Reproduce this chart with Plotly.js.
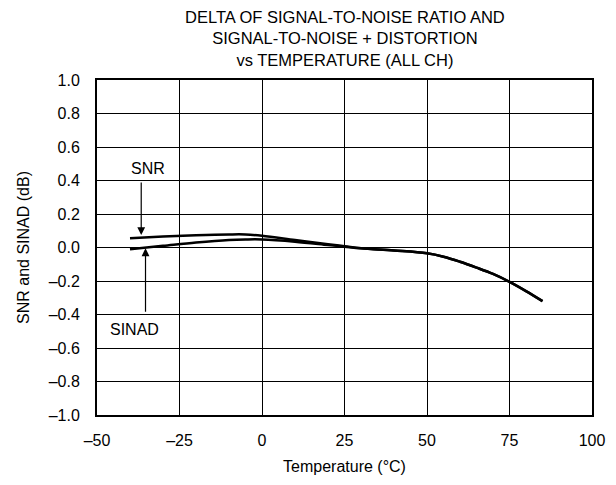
<!DOCTYPE html>
<html>
<head>
<meta charset="utf-8">
<script src="https://cdn.plot.ly/plotly-3.0.1.min.js"></script>
<style>html,body{margin:0;padding:0;background:#fff;}#chart{width:616px;height:485px;}</style>
</head>
<body>
<div id="chart"></div>
<script>
const temps = [-40, -30, -20, -10, -5, 0, 10, 20, 25, 30, 40, 50, 55, 60, 65, 70, 75, 80, 85];
const snr   = [0.055, 0.065, 0.073, 0.078, 0.078, 0.07, 0.045, 0.02, 0.008, -0.005, -0.018, -0.035, -0.055, -0.085, -0.12, -0.158, -0.205, -0.26, -0.32];
const sinad = [-0.01, 0.01, 0.03, 0.045, 0.048, 0.048, 0.035, 0.015, 0.005, -0.005, -0.018, -0.035, -0.055, -0.085, -0.12, -0.158, -0.205, -0.26, -0.32];
const xTicks = [-50, -25, 0, 25, 50, 75, 100];
const xTickText = ['\u201350', '\u201325', '0', '25', '50', '75', '100'];
const yTicks = [-1.0, -0.8, -0.6, -0.4, -0.2, 0.0, 0.2, 0.4, 0.6, 0.8, 1.0];
const yTickText = ['\u20131.0', '\u20130.8', '\u20130.6', '\u20130.4', '\u20130.2', '0.0', '0.2', '0.4', '0.6', '0.8', '1.0'];

const font = {family: 'Liberation Sans, Arial, sans-serif', size: 16, color: '#000'};

const traces = [
  {x: temps, y: snr, mode: 'lines', line: {color: '#000', width: 2.5, shape: 'spline'}, name: 'SNR', hoverinfo: 'none'},
  {x: temps, y: sinad, mode: 'lines', line: {color: '#000', width: 2.5, shape: 'spline'}, name: 'SINAD', hoverinfo: 'none'}
];

const layout = {
  width: 616, height: 485,
  margin: {l: 97, r: 24, t: 80, b: 70},
  paper_bgcolor: '#fff', plot_bgcolor: '#fff',
  showlegend: false,
  font: font,
  title: {
    text: 'DELTA OF SIGNAL-TO-NOISE RATIO AND<br>SIGNAL-TO-NOISE + DISTORTION<br>vs TEMPERATURE (ALL CH)',
    font: {family: font.family, size: 16.5, color: '#000'},
    x: 0.56, xanchor: 'center', y: 0.953, yanchor: 'top'
  },
  xaxis: {
    range: [-50, 100], tickvals: xTicks, ticktext: xTickText,
    showgrid: true, gridcolor: '#000', gridwidth: 1,
    showline: true, linecolor: '#000', linewidth: 2, mirror: true,
    zeroline: false, ticks: 'outside', ticklen: 10, tickcolor: 'rgba(0,0,0,0)',
    title: {text: 'Temperature (°C)', font: font, standoff: 13},
    tickfont: font
  },
  yaxis: {
    range: [-1.0, 1.0], tickvals: yTicks, ticktext: yTickText,
    showgrid: true, gridcolor: '#000', gridwidth: 1,
    showline: true, linecolor: '#000', linewidth: 2, mirror: true,
    zeroline: false, ticks: 'outside', ticklen: 12, tickcolor: 'rgba(0,0,0,0)',
    title: {text: 'SNR and SINAD (dB)', font: font, standoff: 15},
    tickfont: font
  },
  annotations: [
    {x: -34.5, y: 0.473, xref: 'x', yref: 'y', text: 'SNR', showarrow: false, font: font},
    {x: -36.6, y: 0.075, xref: 'x', yref: 'y', text: '', showarrow: true, arrowhead: 2, arrowsize: 1.3, arrowwidth: 1.2, arrowcolor: '#000', ax: 0, ay: -54},
    {x: -38.5, y: -0.487, xref: 'x', yref: 'y', text: 'SINAD', showarrow: false, font: font},
    {x: -35.3, y: -0.005, xref: 'x', yref: 'y', text: '', showarrow: true, arrowhead: 2, arrowsize: 1.3, arrowwidth: 1.2, arrowcolor: '#000', ax: 0, ay: 65}
  ]
};

Plotly.newPlot('chart', traces, layout, {displayModeBar: false, staticPlot: true});
</script>
</body>
</html>
